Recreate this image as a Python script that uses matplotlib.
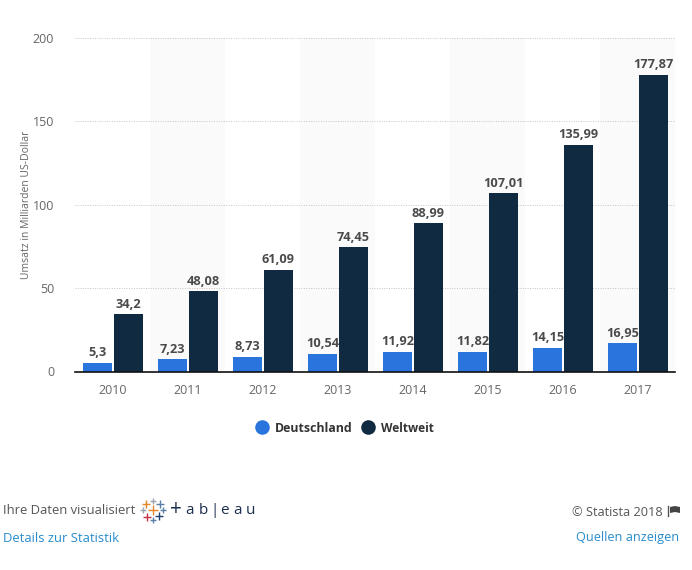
import matplotlib
matplotlib.use("Agg")
import matplotlib.pyplot as plt
import numpy as np

plt.rcParams['font.family'] = ['Open Sans', 'DejaVu Sans']

years = ['2010', '2011', '2012', '2013', '2014', '2015', '2016', '2017']
deutschland = [5.3, 7.23, 8.73, 10.54, 11.92, 11.82, 14.15, 16.95]
weltweit = [34.2, 48.08, 61.09, 74.45, 88.99, 107.01, 135.99, 177.87]
yticks = [0, 50, 100, 150, 200]

blue = '#2a75dd'
navy = '#0f2a41'
W, H = 692, 570

fig = plt.figure(figsize=(W / 100, H / 100), dpi=100)
ax = fig.add_axes([75 / W, (H - 371.5) / H, 600 / W, 333.5 / H])

x = np.arange(len(years))
# abwechselnde Hintergrundstreifen
for i in x[1::2]:
    ax.axvspan(i - 0.5, i + 0.5, color='#fafafa', lw=0, zorder=0)

ax.bar(x - 0.2, deutschland, 0.387, color=blue, zorder=3)
ax.bar(x + 0.213, weltweit, 0.387, color=navy, zorder=3)

for i in x:
    ax.text(i - 0.2, deutschland[i] + 2.1, str(deutschland[i]).replace('.', ','),
            ha='center', va='bottom', fontsize=9.2, fontweight='bold', color='#4a4a4a', zorder=4)
    ax.text(i + 0.213, weltweit[i] + 2.1, str(weltweit[i]).replace('.', ','),
            ha='center', va='bottom', fontsize=9.2, fontweight='bold', color='#4a4a4a', zorder=4)

ax.set_xlim(-0.5, 7.5)
ax.set_ylim(0, 200)
ax.set_xticks(x, years)
ax.set_yticks(yticks)
ax.tick_params(axis='x', length=0, pad=9, labelsize=9, labelcolor='#666666')
ax.tick_params(axis='y', length=0, pad=15, labelsize=9, labelcolor='#666666')
ax.grid(axis='y', color='#c4c4c4', lw=0.7, ls=(0, (1, 1.5)), zorder=1)
ax.set_axisbelow(True)
for s in ['top', 'left', 'right']:
    ax.spines[s].set_visible(False)
ax.spines['bottom'].set_color('#111111')
ax.spines['bottom'].set_linewidth(1.2)
ax.spines['bottom'].set_zorder(5)

# Overlay in Pixelkoordinaten fuer Achsentitel, Legende und Fusszeile
ov = fig.add_axes([0, 0, 1, 1], facecolor='none')
ov.set_xlim(0, W)
ov.set_ylim(H, 0)
ov.axis('off')

ov.text(27, 205, 'Umsatz in Milliarden US-Dollar', rotation=90, ha='center', va='center',
        fontsize=7.5, color='#666666')

ov.scatter([262], [427], s=110, color=blue, lw=0)
ov.text(275, 428.5, 'Deutschland', ha='left', va='center', fontsize=8.9, fontweight='bold', color='#333333')
ov.scatter([368], [427], s=110, color=navy, lw=0)
ov.text(381, 428.5, 'Weltweit', ha='left', va='center', fontsize=8.6, fontweight='bold', color='#333333')

ov.text(3, 510.5, 'Ihre Daten visualisiert', ha='left', va='center', fontsize=9.4, color='#555555')
ov.text(3, 538.5, 'Details zur Statistik', ha='left', va='center', fontsize=9.4, color='#2a8ccc')
ov.text(663, 512, '© Statista 2018', ha='right', va='center', fontsize=9.2, color='#555555')
ov.text(679, 538, 'Quellen anzeigen', ha='right', va='center', fontsize=9.2, color='#2a8ccc')

# Flaggen-Icon neben dem Copyright
ov.plot([668, 668], [505.5, 516], color='#555555', lw=1)
ov.fill([670, 675, 680, 680, 675, 670], [507, 506, 507, 513, 512, 513], color='#444444', lw=0)

# Tableau-Logo
logo_x = [153, 146, 160, 153, 147, 159, 153, 143, 163]
logo_y = [501, 504, 504, 510, 517, 516, 520, 510, 510]
logo_c = ['#9aa5b1', '#e8862a', '#5a7fa8', '#e8862a', '#c8303f', '#1f3f6e', '#5a7fa8', '#9aa5b1', '#5a7fa8']
logo_s = [18, 32, 32, 60, 32, 32, 18, 18, 18]
ov.scatter(logo_x, logo_y, s=logo_s, c=logo_c, marker='+', linewidths=1.0)
ov.text(176, 509.5, '+', ha='center', va='center', fontsize=15, color='#1d2f4e')
logo_letters = ['a', 'b', '|', 'e', 'a', 'u']
logo_letter_x = [190, 203, 214, 224, 237, 250]
for ch, lx in zip(logo_letters, logo_letter_x):
    ov.text(lx, 511, ch, ha='center', va='center', fontsize=11, color='#1d2f4e')

fig.savefig('out.png', dpi=100)
